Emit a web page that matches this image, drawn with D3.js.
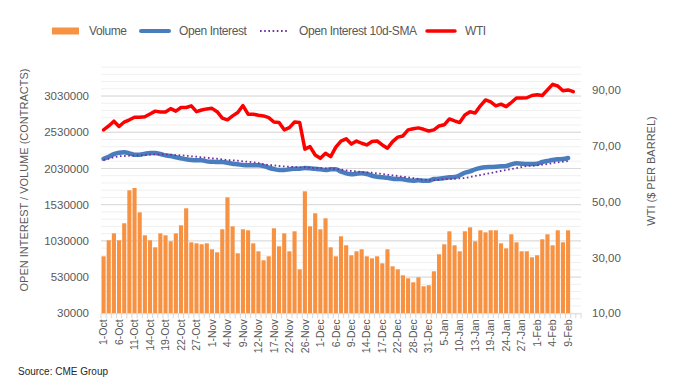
<!DOCTYPE html>
<html>
<head>
<meta charset="utf-8">
<script src="https://cdn.jsdelivr.net/npm/d3@7"></script>
<style>
  body { margin: 0; background: #fff; }
  svg { display: block; font-family: "Liberation Sans", Arial, sans-serif; }
  .tick-label { fill: #595959; font-size: 11.5px; }
  .axis-title { fill: #595959; font-size: 11px; }
  .legend-text { fill: #595959; font-size: 12px; letter-spacing: -0.4px; }
</style>
</head>
<body>
<div id="chart"></div>
<script>
// trading days, 1 Oct 2021 to 11 Feb 2022
const dates = [
    "1-Oct", "4-Oct", "5-Oct", "6-Oct", "7-Oct", "8-Oct", "11-Oct", "12-Oct", "13-Oct", "14-Oct",
    "15-Oct", "18-Oct", "19-Oct", "20-Oct", "21-Oct", "22-Oct", "25-Oct", "26-Oct", "27-Oct", "28-Oct",
    "29-Oct", "1-Nov", "2-Nov", "3-Nov", "4-Nov", "5-Nov", "8-Nov", "9-Nov", "10-Nov", "11-Nov",
    "12-Nov", "15-Nov", "16-Nov", "17-Nov", "18-Nov", "19-Nov", "22-Nov", "23-Nov", "24-Nov", "26-Nov",
    "29-Nov", "30-Nov", "1-Dec", "2-Dec", "3-Dec", "6-Dec", "7-Dec", "8-Dec", "9-Dec", "10-Dec",
    "13-Dec", "14-Dec", "15-Dec", "16-Dec", "17-Dec", "20-Dec", "21-Dec", "22-Dec", "23-Dec", "27-Dec",
    "28-Dec", "29-Dec", "30-Dec", "31-Dec", "3-Jan", "4-Jan", "5-Jan", "6-Jan", "7-Jan", "10-Jan",
    "11-Jan", "12-Jan", "13-Jan", "14-Jan", "18-Jan", "19-Jan", "20-Jan", "21-Jan", "24-Jan", "25-Jan",
    "26-Jan", "27-Jan", "28-Jan", "31-Jan", "1-Feb", "2-Feb", "3-Feb", "4-Feb", "7-Feb", "8-Feb",
    "9-Feb", "10-Feb", "11-Feb"
];

// contracts, thousands
const volume = [
    817, 1038, 1134, 1038, 1273, 1728, 1760, 1424, 1107, 1038, 941, 1134, 1107, 1024, 1134, 1245,
    1480, 1010, 996, 983, 996, 914, 872, 1190, 1631, 1231, 858, 1190, 1176, 996, 886,
    762, 817, 1204, 955, 1134, 886, 1162, 637, 1714, 1231, 1411, 1190, 1342, 941, 817, 1093,
    969, 831, 886, 914, 817, 789, 817, 720, 914, 679, 637, 555, 513, 458, 527,
    403, 417, 610, 845, 983, 1162, 969, 886, 1162, 1217, 1024, 1176, 1148, 1176, 1176, 996,
    927, 1121, 1010, 886, 886, 803, 831, 1052, 1121, 969, 1176, 1010, 1176
];

const openInterest = [
    2164, 2192, 2229, 2247, 2253, 2239, 2220, 2220, 2233, 2243, 2243, 2229, 2211, 2202, 2184, 2170,
    2156, 2146, 2142, 2142, 2128, 2123, 2119, 2119, 2109, 2095, 2087, 2077, 2073, 2073, 2073,
    2064, 2040, 2022, 2008, 2008, 2018, 2027, 2027, 2036, 2032, 2027, 2018, 2008, 2018, 2018, 1985,
    1963, 1949, 1957, 1963, 1953, 1930, 1916, 1908, 1902, 1888, 1884, 1880, 1866, 1861, 1866,
    1861, 1861, 1884, 1888, 1898, 1908, 1912, 1935, 1971, 1990, 2018, 2036, 2046, 2050, 2054, 2059,
    2064, 2087, 2101, 2095, 2091, 2091, 2095, 2119, 2133, 2146, 2156, 2160, 2174
];

const openInterestSma = [
    2146, 2164, 2184, 2198, 2202, 2206, 2206, 2211, 2215, 2220, 2225, 2225, 2225, 2220, 2215, 2211,
    2206, 2198, 2192, 2184, 2179, 2170, 2164, 2156, 2146, 2142, 2137, 2128, 2123, 2115, 2105,
    2087, 2077, 2073, 2064, 2059, 2054, 2050, 2046, 2046, 2040, 2036, 2036, 2032, 2027, 2022, 2013,
    2004, 1995, 1990, 1981, 1976, 1971, 1963, 1953, 1944, 1935, 1926, 1916, 1908, 1898, 1886,
    1875, 1870, 1870, 1875, 1880, 1884, 1888, 1893, 1898, 1912, 1926, 1939, 1953, 1967, 1981, 1995,
    2008, 2022, 2036, 2050, 2064, 2068, 2073, 2082, 2091, 2105, 2115, 2123, 2133
];

// $ per barrel
const wti = [
    75.7, 77.1, 78.8, 76.9, 78.5, 79.3, 80.2, 80.2, 80.4, 81.4, 82.4, 82.1, 82.1, 83.3, 82.4, 83.7,
    83.7, 84.3, 82.2, 82.8, 83.2, 83.4, 82.2, 79.9, 79.3, 80.7, 81.9, 84.4, 81.3, 81.3, 80.9,
    80.7, 80.1, 78.5, 78.3, 75.7, 76.5, 78.5, 78.3, 68.8, 69.7, 66.7, 65.5, 67.3, 66.1, 69.5, 71.7,
    72.5, 70.6, 71.7, 70.9, 70.3, 71.5, 71.7, 70.3, 69.1, 71.5, 73.1, 73.5, 75.7, 76.1, 76.4,
    75.9, 75.3, 75.7, 77.1, 77.5, 79.6, 78.9, 78.3, 81.0, 82.2, 81.7, 84.3, 86.4, 85.7, 84.3, 84.9,
    84.0, 85.5, 87.1, 87.1, 87.2, 88.0, 88.3, 88.0, 90.0, 92.0, 91.4, 89.7, 90.0, 89.4
];

const leftTicks = [30000, 530000, 1030000, 1530000, 2030000, 2530000, 3030000];
const rightTicks = [10, 30, 50, 70, 90];

const legendItems = [
    { label: "Volume", type: "bar", x: 52, textX: 89 },
    { label: "Open Interest", type: "oi", x: 141, textX: 179 },
    { label: "Open Interest 10d-SMA", type: "sma", x: 260, textX: 299 },
    { label: "WTI", type: "wti", x: 427, textX: 465 }
];

const colors = {
    bar: "#F79243",
    oi: "#4A7DBE",
    sma: "#7030A0",
    wti: "#FF0000"
};

const width = 675;
const height = 390;
const plot = { left: 101, right: 581, top: 62, bottom: 313.3 };

const svg = d3.select("#chart")
    .append("svg")
    .attr("width", width)
    .attr("height", height);

const x = d3.scaleBand()
    .domain(dates)
    .range([plot.left, plot.right])
    .paddingInner(0.2)
    .paddingOuter(0.1);

const yLeft = d3.scaleLinear()
    .domain([30000, 3500000])
    .range([plot.bottom, plot.top]);

const yRight = d3.scaleLinear()
    .domain([10, 100])
    .range([plot.bottom, plot.top]);

function cx(i) {
    return x(dates[i]) + x.bandwidth() / 2;
}

// gridlines, minor then major
const minorValues = d3.range(30000, 3500001, 100000);
svg.append("g")
    .selectAll("line")
    .data(minorValues)
    .join("line")
    .attr("x1", plot.left)
    .attr("x2", plot.right)
    .attr("y1", function(d) { return yLeft(d); })
    .attr("y2", function(d) { return yLeft(d); })
    .attr("stroke", "#F0F0F0")
    .attr("stroke-width", 1);

svg.append("g")
    .selectAll("line")
    .data(leftTicks.slice(1))
    .join("line")
    .attr("x1", plot.left)
    .attr("x2", plot.right)
    .attr("y1", function(d) { return yLeft(d); })
    .attr("y2", function(d) { return yLeft(d); })
    .attr("stroke", "#D9D9D9")
    .attr("stroke-width", 1);

// volume bars
svg.append("g")
    .selectAll("rect")
    .data(volume)
    .join("rect")
    .attr("x", function(d, i) { return x(dates[i]); })
    .attr("width", x.bandwidth())
    .attr("y", function(d) { return yLeft(d * 1000); })
    .attr("height", function(d) { return plot.bottom - yLeft(d * 1000); })
    .attr("fill", colors.bar);

// category axis
const step = x.step();
svg.append("line")
    .attr("x1", plot.left)
    .attr("x2", plot.right)
    .attr("y1", plot.bottom + 0.5)
    .attr("y2", plot.bottom + 0.5)
    .attr("stroke", "#D9D9D9");

svg.append("g")
    .selectAll("line")
    .data(d3.range(dates.length + 1))
    .join("line")
    .attr("x1", function(i) { return plot.left + i * step; })
    .attr("x2", function(i) { return plot.left + i * step; })
    .attr("y1", plot.bottom)
    .attr("y2", plot.bottom + 5)
    .attr("stroke", "#D9D9D9");

svg.append("g")
    .selectAll("text")
    .data(dates.filter(function(d, i) { return i % 3 === 0 && i <= 90; }))
    .join("text")
    .attr("class", "tick-label")
    .style("font-size", "10.5px")
    .attr("transform", function(d) {
        return "translate(" + (x(d) + x.bandwidth() / 2) + "," + (plot.bottom + 6) + ") rotate(-90)";
    })
    .attr("text-anchor", "end")
    .attr("dy", "0.35em")
    .text(function(d) { return d; });

// value axes
const leftAxis = d3.axisLeft(yLeft)
    .tickValues(leftTicks)
    .tickSize(0)
    .tickPadding(12)
    .tickFormat(d3.format("d"));

svg.append("g")
    .attr("transform", "translate(" + plot.left + ",0)")
    .call(leftAxis)
    .call(function(g) { g.select(".domain").remove(); })
    .selectAll("text")
    .attr("class", "tick-label")
    .attr("fill", null);

const rightAxis = d3.axisRight(yRight)
    .tickValues(rightTicks)
    .tickSize(0)
    .tickPadding(11)
    .tickFormat(function(d) { return d.toFixed(2).replace(".", ","); });

svg.append("g")
    .attr("transform", "translate(" + plot.right + ",0)")
    .call(rightAxis)
    .call(function(g) { g.select(".domain").remove(); })
    .selectAll("text")
    .attr("class", "tick-label")
    .attr("fill", null);

svg.selectAll(".tick text").attr("font-family", null).attr("font-size", null);

// lines
const oiLine = d3.line()
    .x(function(d, i) { return cx(i); })
    .y(function(d) { return yLeft(d * 1000); })
    .curve(d3.curveMonotoneX);

const wtiLine = d3.line()
    .x(function(d, i) { return cx(i); })
    .y(function(d) { return yRight(d); });

svg.append("path")
    .datum(openInterest)
    .attr("d", oiLine)
    .attr("fill", "none")
    .attr("stroke", colors.oi)
    .attr("stroke-width", 4.5)
    .attr("stroke-linejoin", "round")
    .attr("stroke-linecap", "round");

svg.append("path")
    .datum(openInterestSma)
    .attr("d", oiLine)
    .attr("fill", "none")
    .attr("stroke", colors.sma)
    .attr("stroke-width", 1.8)
    .attr("stroke-dasharray", "1.6,2.6");

svg.append("path")
    .datum(wti)
    .attr("d", wtiLine)
    .attr("fill", "none")
    .attr("stroke", colors.wti)
    .attr("stroke-width", 3.5)
    .attr("stroke-linejoin", "round")
    .attr("stroke-linecap", "round");

// axis titles
svg.append("text")
    .attr("class", "axis-title")
    .attr("transform", "translate(28,180) rotate(-90)")
    .attr("text-anchor", "middle")
    .text("OPEN INTEREST / VOLUME (CONTRACTS)");

svg.append("text")
    .attr("class", "axis-title")
    .attr("transform", "translate(655,171) rotate(-90)")
    .attr("text-anchor", "middle")
    .text("WTI ($ PER BARREL)");

// legend
const legend = svg.append("g");
legendItems.forEach(function(item) {
    if (item.type === "bar") {
        legend.append("rect")
            .attr("x", item.x)
            .attr("y", 27.5)
            .attr("width", 27)
            .attr("height", 7)
            .attr("fill", colors.bar);
    } else {
        legend.append("line")
            .attr("x1", item.x)
            .attr("x2", item.x + 28)
            .attr("y1", 31)
            .attr("y2", 31)
            .attr("stroke", colors[item.type])
            .attr("stroke-width", item.type === "sma" ? 1.8 : item.type === "oi" ? 4 : 3.5)
            .attr("stroke-dasharray", item.type === "sma" ? "1.6,2.6" : null)
            .attr("stroke-linecap", item.type === "sma" ? "butt" : "round");
    }
    legend.append("text")
        .attr("class", "legend-text")
        .attr("x", item.textX)
        .attr("y", 31)
        .attr("dy", "0.35em")
        .text(item.label);
});

svg.append("text")
    .attr("x", 18)
    .attr("y", 375)
    .attr("fill", "#262626")
    .style("font-size", "10px")
    .text("Source: CME Group");
</script>
</body>
</html>
